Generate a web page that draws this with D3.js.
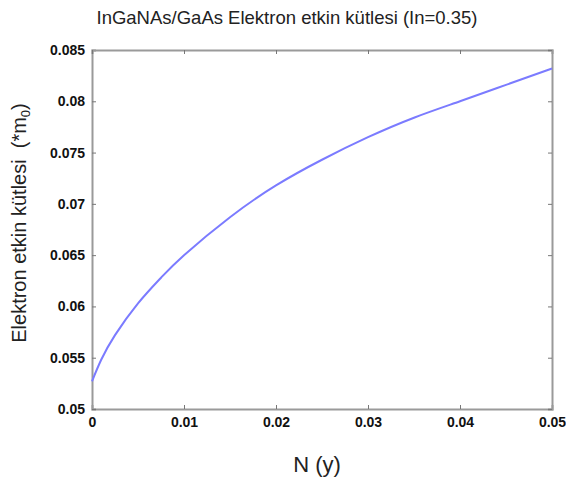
<!DOCTYPE html>
<html>
<head>
<meta charset="utf-8">
<script src="https://cdn.jsdelivr.net/npm/d3@7"></script>
<style>
  body { margin: 0; background: #fff; }
  text { font-family: "Liberation Sans", Arial, sans-serif; }
</style>
</head>
<body>
<script>
// values
const nValues = [0, 0.001, 0.0025, 0.005, 0.0075, 0.01, 0.015, 0.02, 0.025, 0.03,
  0.035, 0.04, 0.045, 0.05];
const massValues = [0.0527, 0.0548, 0.0572, 0.0603, 0.0628, 0.0650, 0.0687, 0.0718, 0.0743, 0.0765,
  0.0784, 0.0800, 0.0816, 0.0832];
const xTicks = [0, 0.01, 0.02, 0.03, 0.04, 0.05];
const yTicks = [0.05, 0.055, 0.06, 0.065, 0.07, 0.075, 0.08, 0.085];

const width = 566;
const height = 479;
const margin = { top: 50, right: 14, bottom: 70, left: 92 };

const svg = d3.select("body")
  .append("svg")
  .attr("width", width)
  .attr("height", height);

const x = d3.scaleLinear()
  .domain([0, 0.05])
  .range([margin.left, width - margin.right]);

const y = d3.scaleLinear()
  .domain([0.05, 0.085])
  .range([height - margin.bottom, margin.top]);

const frameColor = "#9a9a9a";
const fmt = d => String(+d.toFixed(3));

// axes with inward ticks on all four sides
svg.append("g")
  .attr("transform", `translate(0,${y.range()[0]})`)
  .call(d3.axisBottom(x).tickValues(xTicks).tickSize(-4).tickPadding(8).tickFormat(fmt));

svg.append("g")
  .attr("transform", `translate(${x.range()[0]},0)`)
  .call(d3.axisLeft(y).tickValues(yTicks).tickSize(-4).tickPadding(7).tickFormat(fmt));

svg.append("g")
  .attr("transform", `translate(0,${y.range()[1]})`)
  .call(d3.axisTop(x).tickValues(xTicks).tickSize(-4).tickFormat(""));

svg.append("g")
  .attr("transform", `translate(${x.range()[1]},0)`)
  .call(d3.axisRight(y).tickValues(yTicks).tickSize(-4).tickFormat(""));

svg.selectAll(".domain")
  .attr("stroke", frameColor)
  .attr("stroke-width", 2);
svg.selectAll(".tick line")
  .attr("stroke", "#777");
svg.selectAll(".tick text")
  .attr("font-size", 14)
  .attr("font-weight", "bold")
  .attr("fill", "#111");

// curve
const line = d3.line()
  .x((d, i) => x(nValues[i]))
  .y(d => y(d))
  .curve(d3.curveNatural);

svg.append("path")
  .datum(massValues)
  .attr("d", line)
  .attr("fill", "none")
  .attr("stroke", "#7b7bff")
  .attr("stroke-width", 2);

// title
svg.append("text")
  .attr("x", 287)
  .attr("y", 24)
  .attr("text-anchor", "middle")
  .attr("font-size", 18.5)
  .attr("fill", "#222")
  .text("InGaNAs/GaAs Elektron etkin kütlesi (In=0.35)");

// x label
svg.append("text")
  .attr("x", 317)
  .attr("y", 472)
  .attr("text-anchor", "middle")
  .attr("font-size", 22)
  .attr("fill", "#222")
  .text("N (y)");

// y label
const yl = svg.append("text")
  .attr("transform", "translate(26,223) rotate(-90)")
  .attr("text-anchor", "middle")
  .attr("font-size", 20)
  .attr("fill", "#222")
  .attr("xml:space", "preserve");
yl.append("tspan").text("Elektron etkin kütlesi  (*m");
yl.append("tspan").attr("font-size", 13).attr("dy", 4).text("0");
yl.append("tspan").attr("dy", -4).text(")");
</script>
</body>
</html>
